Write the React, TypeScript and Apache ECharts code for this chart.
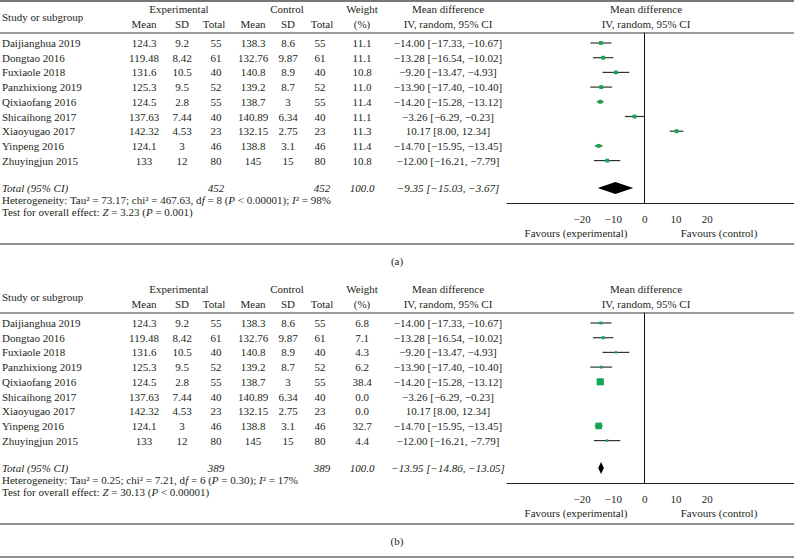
import React, { useEffect, useRef } from 'react';
import * as echarts from 'echarts';

const STUDIES = ['Daijianghua 2019', 'Dongtao 2016', 'Fuxiaole 2018', 'Panzhixiong 2019', 'Qixiaofang 2016', 'Shicaihong 2017', 'Xiaoyugao 2017', 'Yinpeng 2016', 'Zhuyingjun 2015'];
const EXP_MEAN = [124.3, 119.48, 131.6, 125.3, 124.5, 137.63, 142.32, 124.1, 133];
const EXP_SD = [9.2, 8.42, 10.5, 9.5, 2.8, 7.44, 4.53, 3, 12];
const EXP_TOTAL = [55, 61, 40, 52, 55, 40, 23, 46, 80];
const CTL_MEAN = [138.3, 132.76, 140.8, 139.2, 138.7, 140.89, 132.15, 138.8, 145];
const CTL_SD = [8.6, 9.87, 8.9, 8.7, 3, 6.34, 2.75, 3.1, 15];
const CTL_TOTAL = [55, 61, 40, 52, 55, 40, 23, 46, 80];
const MD = [-14.0, -13.28, -9.2, -13.9, -14.2, -3.26, 10.17, -14.7, -12.0];
const CI_LOW = [-17.33, -16.54, -13.47, -17.4, -15.28, -6.29, 8.0, -15.95, -16.21];
const CI_HIGH = [-10.67, -10.02, -4.93, -10.4, -13.12, -0.23, 12.34, -13.45, -7.79];
const WEIGHT_A = [11.1, 11.1, 10.8, 11.0, 11.4, 11.1, 11.3, 11.4, 10.8];
const WEIGHT_B = [6.8, 7.1, 4.3, 6.2, 38.4, 0.0, 0.0, 32.7, 4.4];
const WEIGHTS = [WEIGHT_A, WEIGHT_B];
const PANEL_LABELS = ['(a)', '(b)'];
const TOTAL_N = [452, 389];
const POOLED_MD = [-9.35, -13.95];
const POOLED_LOW = [-15.03, -14.86];
const POOLED_HIGH = [-3.67, -13.05];
const TAU2 = [73.17, 0.25];
const CHI2 = [467.63, 7.21];
const DF = [8, 6];
const P_HET = ['< 0.00001', '= 0.30'];
const I2 = [98, 17];
const Z_VAL = [3.23, 30.13];
const P_Z = ['= 0.001', '< 0.00001'];
const X_TICKS = [-20, -10, 0, 10, 20];

const FF = "'Liberation Serif', 'DejaVu Serif', serif";
const FS = 11;
const FONT = `${FS}px ${FF}`;
const IFONT = `italic ${FS}px ${FF}`;
const TXT = '#231f20';
const GREEN = '#14a552';

const W = 794;
const H = 558;
const PANEL_OFF = [0, 280];
const ROW0 = 43;
const ROW_H = 14.7;
const GRID_TOP = 33;
const GRID_H = 170;
const GRID_LEFT = 507;
const TOTAL_ROW = (188 - ROW0) / ROW_H;

const fmt = (v: number, d: number) => v.toFixed(d).replace('-', '\u2212');

const COL = { study: 2, eMean: 144, eSD: 182, eTot: 216, cMean: 253, cSD: 288, cTot: 320, weight: 362, ci: 448, plot: 646 };

function text(x: number, y: number, s: string, align = 'center', font = FONT, extra: any = {}) {
  return {
    type: 'text',
    silent: true,
    style: {
      text: s, x, y, font, fill: TXT,
      textAlign: align, textVerticalAlign: 'middle', align, verticalAlign: 'middle',
      ...extra,
    },
  };
}

function hline(y: number, w: number, color: string, x1 = 0, x2 = W) {
  return { type: 'line', silent: true, shape: { x1, y1: y, x2, y2: y }, style: { stroke: color, lineWidth: w } };
}

function buildGraphics() {
  const g: any[] = [];
  const rich = {
    i: { fontStyle: 'italic', fontFamily: FF, fontSize: FS, fill: TXT, color: TXT },
  };
  PANEL_OFF.forEach((off, p) => {
    // lines
    g.push(hline(off + (p === 0 ? 1 : 279), p === 0 ? 1.5 : 2, '#4a4a4a'));
    g.push(hline(off + 33, 1.5, '#7a7a7a'));
    g.push(hline(off + 244, 1.5, '#6a6a6a'));
    if (p === 1) g.push(hline(557, 1.5, '#6a6a6a'));
    else g.push(hline(277.5, 0.01, '#ffffff'));
    // headers
    g.push(text(COL.study, off + 17, 'Study or subgroup', 'left'));
    g.push(text(179, off + 9, 'Experimental'));
    g.push(text(287, off + 9, 'Control'));
    g.push(text(COL.weight, off + 9, 'Weight'));
    g.push(text(COL.ci, off + 9, 'Mean difference'));
    g.push(text(COL.plot, off + 9, 'Mean difference'));
    g.push(text(COL.eMean, off + 24, 'Mean'));
    g.push(text(COL.eSD, off + 24, 'SD'));
    g.push(text(214, off + 24, 'Total'));
    g.push(text(COL.cMean, off + 24, 'Mean'));
    g.push(text(COL.cSD, off + 24, 'SD'));
    g.push(text(322, off + 24, 'Total'));
    g.push(text(COL.weight, off + 24, '(%)'));
    g.push(text(COL.ci, off + 24, 'IV, random, 95% CI'));
    g.push(text(COL.plot, off + 24, 'IV, random, 95% CI'));
    // rows
    STUDIES.forEach((s, i) => {
      const y = off + ROW0 + ROW_H * i;
      g.push(text(COL.study, y, s, 'left'));
      g.push(text(COL.eMean, y, String(EXP_MEAN[i])));
      g.push(text(COL.eSD, y, String(EXP_SD[i])));
      g.push(text(COL.eTot, y, String(EXP_TOTAL[i])));
      g.push(text(COL.cMean, y, String(CTL_MEAN[i])));
      g.push(text(COL.cSD, y, String(CTL_SD[i])));
      g.push(text(COL.cTot, y, String(CTL_TOTAL[i])));
      g.push(text(COL.weight, y, WEIGHTS[p][i].toFixed(1)));
      g.push(text(COL.ci, y, `${fmt(MD[i], 2)} [${fmt(CI_LOW[i], 2)}, ${fmt(CI_HIGH[i], 2)}]`));
    });
    // totals
    const ty = off + 188;
    g.push(text(COL.study, ty, 'Total (95% CI)', 'left', IFONT));
    g.push(text(COL.eTot, ty, String(TOTAL_N[p]), 'center', IFONT));
    g.push(text(COL.cTot + 2, ty, String(TOTAL_N[p]), 'center', IFONT));
    g.push(text(COL.weight, ty, '100.0', 'center', IFONT));
    g.push(text(COL.ci, ty, `${fmt(POOLED_MD[p], 2)} [${fmt(POOLED_LOW[p], 2)}, ${fmt(POOLED_HIGH[p], 2)}]`, 'center', IFONT));
    g.push(text(COL.study, off + 200,
      `Heterogeneity: Tau\u00b2 = ${TAU2[p].toFixed(2)}; chi\u00b2 = ${CHI2[p].toFixed(2)}, d{i|f} = ${DF[p]} ({i|P} ${P_HET[p]}); {i|I}\u00b2 = ${I2[p]}%`,
      'left', FONT, { rich }));
    g.push(text(COL.study, off + 212,
      `Test for overall effect: {i|Z} = ${Z_VAL[p].toFixed(2)} ({i|P} ${P_Z[p]})`,
      'left', FONT, { rich }));
    // favours
    g.push(text(576, off + 233, 'Favours (experimental)'));
    g.push(text(719, off + 233, 'Favours (control)'));
    g.push(text(397, off + 261, PANEL_LABELS[p]));
  });
  return g;
}

export default function App() {
  const ref = useRef<HTMLDivElement>(null);
  useEffect(() => {
    if (!ref.current) return;
    const chart = echarts.init(ref.current, undefined, { renderer: 'svg' });
    const grids = PANEL_OFF.map((off) => ({ left: GRID_LEFT, top: off + GRID_TOP, width: W - GRID_LEFT, height: GRID_H }));
    const xAxes = PANEL_OFF.map((_, p) => ({
      type: 'value', gridIndex: p, min: -44, max: 47.7,
      axisLine: { show: true, onZero: false, lineStyle: { color: '#222', width: 1.2 } },
      axisTick: { show: false },
      splitLine: { show: false },
      axisLabel: {
        customValues: X_TICKS, showMinLabel: true, showMaxLabel: true,
        formatter: (v: number) => fmt(v, 0), color: TXT, fontFamily: FF, fontSize: FS, margin: 10,
      },
    }));
    const yAxes = PANEL_OFF.map((_, p) => ({
      type: 'value', gridIndex: p, inverse: true,
      min: -(ROW0 - GRID_TOP) / ROW_H, max: (GRID_H - (ROW0 - GRID_TOP)) / ROW_H,
      axisLine: { show: true, onZero: true, lineStyle: { color: '#111', width: 1 } },
      axisTick: { show: false }, axisLabel: { show: false }, splitLine: { show: false },
    }));
    const series: any[] = [];
    PANEL_OFF.forEach((_, p) => {
      const data = STUDIES.map((_, i) => [MD[i], CI_LOW[i], CI_HIGH[i], i, WEIGHTS[p][i]]);
      series.push({
        type: 'custom', xAxisIndex: p, yAxisIndex: p, data, silent: true,
        encode: { x: [0, 1, 2], y: 3 },
        renderItem: (params: any, api: any) => {
          const w = api.value(4);
          if (!(w > 0)) return null;
          const row = api.value(3);
          const a = api.coord([api.value(1), row]);
          const b = api.coord([api.value(2), row]);
          const c = api.coord([api.value(0), row]);
          const s = 1.15 * Math.sqrt(w);
          return {
            type: 'group',
            children: [
              { type: 'line', shape: { x1: a[0], y1: a[1], x2: b[0], y2: b[1] }, style: { stroke: '#333', lineWidth: 1.2 } },
              { type: 'rect', shape: { x: c[0] - s / 2, y: c[1] - s / 2, width: s, height: s }, style: { fill: GREEN } },
            ],
          };
        },
      });
      series.push({
        type: 'custom', xAxisIndex: p, yAxisIndex: p, silent: true,
        data: [[POOLED_MD[p], POOLED_LOW[p], POOLED_HIGH[p], TOTAL_ROW]],
        encode: { x: [0, 1, 2], y: 3 },
        renderItem: (params: any, api: any) => {
          const row = api.value(3);
          const l = api.coord([api.value(1), row]);
          const r = api.coord([api.value(2), row]);
          const c = api.coord([api.value(0), row]);
          const hh = 6;
          return {
            type: 'polygon',
            shape: { points: [[l[0], l[1]], [c[0], c[1] - hh], [r[0], r[1]], [c[0], c[1] + hh]] },
            style: { fill: '#000' },
          };
        },
      });
    });
    chart.setOption({
      animation: false,
      backgroundColor: '#fff',
      grid: grids,
      xAxis: xAxes,
      yAxis: yAxes,
      series,
      graphic: { elements: buildGraphics() },
    });
    return () => chart.dispose();
  }, []);
  return <div ref={ref} style={{ position: 'fixed', left: 0, top: 0, width: W, height: H, background: '#fff' }} />;
}
